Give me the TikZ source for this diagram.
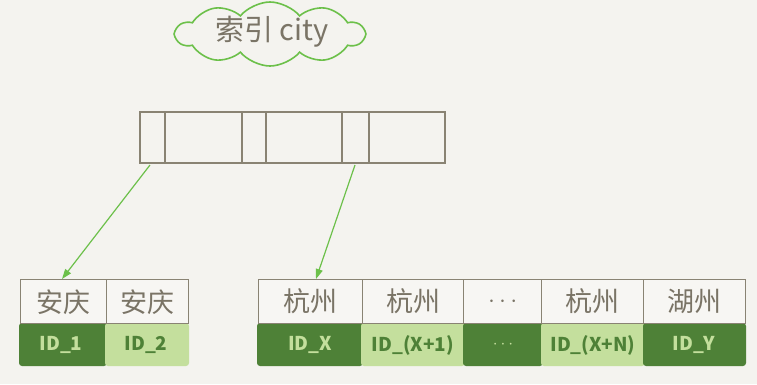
\documentclass[tikz,border=0pt]{standalone}
\usepackage{fontspec}
\setmainfont{Noto Sans CJK SC}
\usetikzlibrary{shapes.symbols,arrows.meta}
\definecolor{bg}{HTML}{F4F3EF}
\definecolor{cellfill}{HTML}{F7F6F3}
\definecolor{border}{HTML}{898373}
\definecolor{txt}{HTML}{7A7466}
\definecolor{dkgreen}{HTML}{4E8137}
\definecolor{ltgreen}{HTML}{C4DF9D}
\definecolor{arrowgreen}{HTML}{6CC04A}
\tikzset{
  x=1pt,y=-1pt,
  hdr/.style={draw=border,line width=1.4pt,fill=cellfill},
  idd/.style={fill=dkgreen,rounded corners=3pt},
  idl/.style={fill=ltgreen,rounded corners=3pt},
  hdrtxt/.style={text=txt,font=\fontsize{27}{29}\selectfont},
  iddtxt/.style={text=ltgreen,font=\fontsize{19}{21}\selectfont\bfseries},
  idltxt/.style={text=dkgreen,font=\fontsize{19}{21}\selectfont\bfseries},
  link/.style={draw=arrowgreen,line width=1.2pt,-{Triangle[length=10pt,width=7pt]}},
  idx/.style={draw=border,line width=1.4pt}
}
\begin{document}
\begin{tikzpicture}
\fill[bg] (0,0) rectangle (757,384);
\useasboundingbox (0,0) rectangle (757,384);
% cloud
\node[cloud,cloud puffs=10,cloud puff arc=100,aspect=3,draw=arrowgreen,line width=1.6pt,fill=bg,minimum width=188pt,minimum height=64pt,inner sep=0pt] (cloud) at (270,34) {};
\node[text=txt,font=\fontsize{29}{31}\selectfont] (title) at (272,32) {索引 city};
% index block
\draw[idx] (140,112) rectangle (445,163);
\foreach \xx in {165,242,266,342,369}{\draw[idx] (\xx,112) -- (\xx,163);}
\coordinate (s1) at (150,165);
\coordinate (s2) at (355,165);
% left table
\fill[idd] (19,323) rectangle (107,366);
\fill[idl] (105,323) rectangle (189,366);
\node[hdr,minimum width=86pt,minimum height=44pt,anchor=north west,inner sep=0pt] (a1) at (20,279) {};
\node[hdr,minimum width=82pt,minimum height=44pt,anchor=north west,inner sep=0pt] (a2) at (106,279) {};
\node[hdrtxt] at (a1) {安庆};
\node[hdrtxt] at (a2) {安庆};
\node[iddtxt] (i1) at (61,345) {ID\_1};
\node[idltxt] (i2) at (146,345) {ID\_2};
% right table
\fill[idd] (257,323) rectangle (363,366);
\fill[idl] (361,323) rectangle (465,366);
\fill[idd] (463,323) rectangle (543,366);
\fill[idl] (541,323) rectangle (645,366);
\fill[idd] (643,323) rectangle (746,366);
\node[hdr,minimum width=104pt,minimum height=44pt,anchor=north west,inner sep=0pt] (b1) at (258,279) {};
\node[hdr,minimum width=101pt,minimum height=44pt,anchor=north west,inner sep=0pt] (b2) at (362,279) {};
\node[hdr,minimum width=78pt,minimum height=44pt,anchor=north west,inner sep=0pt] (b3) at (463,279) {};
\node[hdr,minimum width=102pt,minimum height=44pt,anchor=north west,inner sep=0pt] (b4) at (541,279) {};
\node[hdr,minimum width=102pt,minimum height=44pt,anchor=north west,inner sep=0pt] (b5) at (643,279) {};
\node[hdrtxt] at (b1) {杭州};
\node[hdrtxt] at (b2) {杭州};
\node[hdrtxt] at (b3) {$\cdots$};
\node[hdrtxt] at (b4) {杭州};
\node[hdrtxt] at (b5) {湖州};
\node[iddtxt] at (310,345) {ID\_X};
\node[idltxt] at (413,345) {ID\_(X+1)};
\node[iddtxt] at (503,345) {$\cdots$};
\node[idltxt] at (593,345) {ID\_(X+N)};
\node[iddtxt] at (694,345) {ID\_Y};
% arrows
\coordinate (t1) at (62,279);
\coordinate (t2) at (316,279);
\draw[link] (s1) -- (t1);
\draw[link] (s2) -- (t2);
\end{tikzpicture}
\end{document}
